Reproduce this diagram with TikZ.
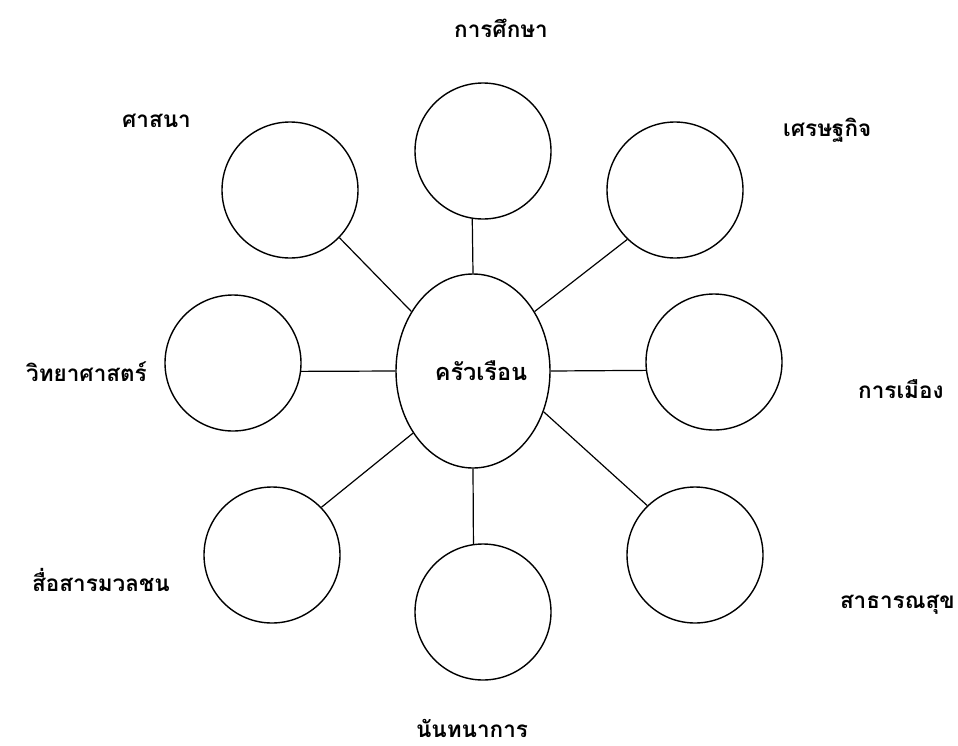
\documentclass[tikz,border=0pt]{standalone}
\usepackage{fontspec}
\newfontfamily\thaifont[Script=Thai]{Loma}
\usetikzlibrary{shapes.geometric}
\tikzset{
  topic/.style={circle, draw, line width=1.4pt, minimum size=136pt, inner sep=0pt},
  hub/.style={ellipse, draw, line width=1.4pt, minimum width=154pt, minimum height=194pt, inner sep=0pt},
  lbl/.style={font=\thaifont\bfseries\fontsize{22.5}{26}\selectfont, inner sep=0pt},
  link/.style={line width=1.2pt}
}
\begin{document}
\begin{tikzpicture}[x=1pt, y=-1pt]
\useasboundingbox (0,0) rectangle (958,745);
\node[hub] (hub) at (473,371) {};
\node[font=\thaifont\bfseries\fontsize{23.5}{27}\selectfont, inner sep=0pt, anchor=base] (hubtxt) at (481,380) {ครัวเรือน};
\node[topic] (edu) at (483,151) {};
\node[topic] (rel) at (290,190) {};
\node[topic] (eco) at (675,190) {};
\node[topic] (sci) at (233,363) {};
\node[topic] (pol) at (714,362) {};
\node[topic] (med) at (272,555) {};
\node[topic] (rec) at (483,612) {};
\node[topic] (hea) at (695,555) {};
\draw[link] (hub.90) -- (edu.261.5);
\draw[link] (hub.136) -- (rel.-44);
\draw[link] (hub.44) -- (eco.226);
\draw[link] (hub.180) -- (sci.-7.5);
\draw[link] (hub.0) -- (pol.187.5);
\draw[link] (hub.226) -- (med.44);
\draw[link] (hub.-30) -- (hea.134);
\draw[link] (hub.270) -- (rec.98);
\node[lbl, anchor=base] (tedu) at (501,37) {การศึกษา};
\node[lbl, anchor=base east] (trel) at (191,127) {ศาสนา};
\node[lbl, anchor=base west] (teco) at (783,136) {เศรษฐกิจ};
\node[lbl, anchor=base east] (tsci) at (147,381) {วิทยาศาสตร์};
\node[lbl, anchor=base west] (tpol) at (858,398) {การเมือง};
\node[lbl, anchor=base west] (tmed) at (32,591) {สื่อสารมวลชน};
\node[lbl, anchor=base east] (thea) at (955,608) {สาธารณสุข};
\node[lbl, anchor=base] (trec) at (472,737) {นันทนาการ};
\end{tikzpicture}
\end{document}
